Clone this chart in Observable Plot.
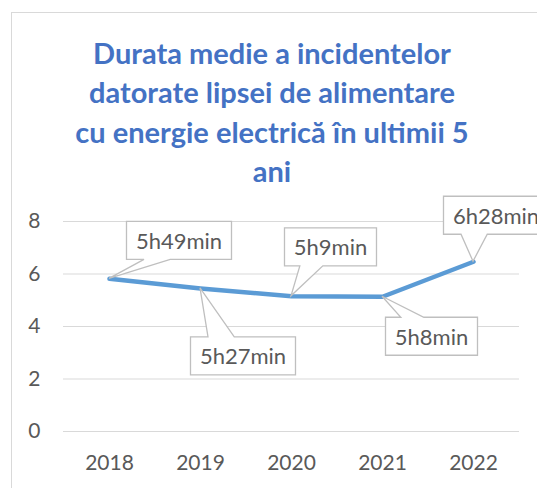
<!DOCTYPE html>
<html><head><meta charset="utf-8">
<script src="https://cdn.jsdelivr.net/npm/d3@7"></script>
<script src="https://cdn.jsdelivr.net/npm/@observablehq/plot@0.6"></script>
<style>
html,body{margin:0;padding:0;background:#fff;overflow:hidden;width:537px;height:488px;}
#frame{position:absolute;left:11px;top:12px;width:600px;height:600px;border:1px solid #D9D9D9;box-sizing:border-box;}
#title{position:absolute;left:0;top:33px;width:544px;text-align:center;font-family:Lato;font-weight:bold;font-size:29px;line-height:39.3px;color:#4472C4;}
#chart{position:absolute;left:0;top:190px;}
</style></head><body>
<div id="frame"></div>
<div id="title">Durata medie a incidentelor<br>datorate lipsei de alimentare<br>cu energie electrică în ultimii 5<br>ani</div>
<div id="chart"></div>
<script>
const years = ["2018", "2019", "2020", "2021", "2022"];
const values = [5.817, 5.45, 5.15, 5.133, 6.467];
const labels = ["5h49min", "5h27min", "5h9min", "5h8min", "6h28min"];
const yTicks = [0, 2, 4, 6, 8];
// callout box centre offsets from each point, in px (styling only)
const calloutDx = [70, 43, 39.5, 49.5, 23];
const calloutDy = [-38, 68, -49, 40, -46];

const data = years.map((year, i) => ({year, value: values[i], label: labels[i]}));

function callouts(index, scales) {
  const ns = "http://www.w3.org/2000/svg";
  const g = document.createElementNS(ns, "g");
  const ctx = document.createElement("canvas").getContext("2d");
  ctx.font = "22px Lato";
  data.forEach((d, i) => {
    const px = scales.x(d.year), py = scales.y(d.value);
    const cx = px + calloutDx[i], cy = py + calloutDy[i];
    const w = Math.round(ctx.measureText(d.label).width + 19), h = 38;
    const x0 = cx - w / 2, x1 = cx + w / 2, y0 = cy - h / 2, y1 = cy + h / 2;
    const left = px < cx;
    const b1 = left ? x0 + w / 6 : x0 + 7 * w / 12;
    const b2 = left ? x0 + 5 * w / 12 : x0 + 5 * w / 6;
    let p;
    if (py > y1) p = `M${x0},${y0}H${x1}V${y1}H${b2}L${px},${py}L${b1},${y1}H${x0}Z`;
    else p = `M${x0},${y0}H${b1}L${px},${py}L${b2},${y0}H${x1}V${y1}H${x0}Z`;
    const path = document.createElementNS(ns, "path");
    path.setAttribute("d", p);
    path.setAttribute("fill", "#fff");
    path.setAttribute("stroke", "#BFBFBF");
    path.setAttribute("stroke-width", "1.3");
    g.appendChild(path);
    const t = document.createElementNS(ns, "text");
    t.setAttribute("x", cx);
    t.setAttribute("y", cy);
    t.setAttribute("text-anchor", "middle");
    t.setAttribute("dominant-baseline", "central");
    t.setAttribute("fill", "#595959");
    t.setAttribute("font-family", "Lato");
    t.setAttribute("font-size", "22");
    t.textContent = d.label;
    g.appendChild(t);
  });
  return g;
}

const chart = Plot.plot({
  width: 537, height: 298,
  marginTop: 31, marginBottom: 57, marginLeft: 63, marginRight: 18,
  style: {fontFamily: "Lato", fontSize: "21px", color: "#595959", background: "transparent", overflow: "visible"},
  x: {type: "point", domain: years, padding: 0.5, tickSize: 0, tickPadding: 24, label: null},
  y: {domain: [0, 8], ticks: yTicks, tickSize: 0, tickPadding: 23, label: null},
  marks: [
    Plot.ruleY(yTicks, {stroke: "#D9D9D9", strokeWidth: 1}),
    Plot.line(data, {x: "year", y: "value", stroke: "#5B9BD5", strokeWidth: 4.5, strokeLinecap: "round", strokeLinejoin: "round"}),
    callouts
  ]
});
document.getElementById("chart").appendChild(chart);
</script>
</body></html>
